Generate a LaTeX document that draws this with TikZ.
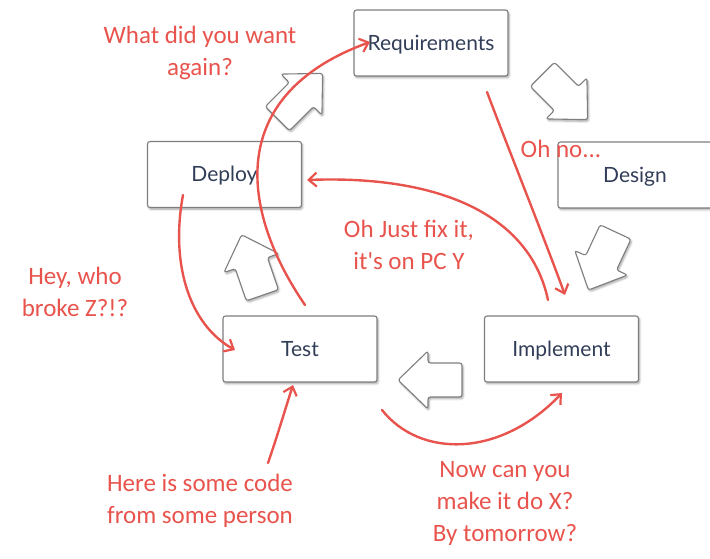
\documentclass[tikz,border=0pt]{standalone}
\usepackage{fontspec}
\setmainfont{Lato}
\newfontfamily\hand{Carlito}
\usetikzlibrary{arrows.meta,shadows.blur}
\definecolor{boxtext}{HTML}{323E58}
\definecolor{boxline}{HTML}{7E7E7E}
\definecolor{scrib}{HTML}{E8544D}
\tikzset{
  stage/.style={draw=boxline, line width=1.1pt, rounded corners=2.5pt, fill=white,
    minimum width=154pt, minimum height=66pt, text=boxtext,
    text height=15pt, text depth=0pt,
    font=\fontsize{21}{24}\selectfont,
    blur shadow={shadow xshift=1.2pt, shadow yshift=-1.8pt, shadow blur steps=6, shadow opacity=35}},
  blockarrow/.style={draw=boxline, line width=1.1pt, rounded corners=2.5pt, fill=white,
    blur shadow={shadow xshift=1.2pt, shadow yshift=-1.8pt, shadow blur steps=6, shadow opacity=35}},
  scribble/.style={draw=scrib, line width=2.4pt, line cap=round,
    -{Straight Barb[length=8pt,width=14pt,line width=2.2pt]}},
  note/.style={text=scrib, font=\hand\fontsize{25}{32}\selectfont, align=center},
  pics/barrow/.style={code={
    \draw[blockarrow] (-32,-17) -- (2,-17) -- (2,-29) -- (32,0) -- (2,29) -- (2,17) -- (-32,17) -- cycle;}}
}
\begin{document}
\begin{tikzpicture}[x=1pt,y=-1pt]
\useasboundingbox (0,0) rectangle (710,559);
\clip (0,0) rectangle (710,559);

% block arrows
\path (300,96) pic[rotate=45] {barrow};
\path (565,97) pic[rotate=-45] {barrow};
\path (602,261) pic[rotate=245] {barrow};
\path (430,380) pic[rotate=180] {barrow};
\path (252,265) pic[rotate=109] {barrow};

% stages
\node[stage] (req) at (431,43) {Requirements};
\node[stage] (design) at (635,175) {Design};
\node[stage] (deploy) at (224.5,174.5) {Deploy};
\node[stage] (test) at (300,349) {Test};
\node[stage] (impl) at (561.5,349) {Implement};

% notes
\node[note] (n1) at (200,53) {What did you want\\again?};
\node[note] (n2) at (561,149) {Oh no...};
\node[note] (n3) at (409,245) {Oh Just fix it,\\it's on PC Y};
\node[note] (n4) at (75,292) {Hey, who\\broke Z?!?};
\node[note] (n5) at (200,501) {Here is some code\\from some person};
\node[note] (n6) at (505,503) {Now can you\\make it do X?\\By tomorrow?};

% scribble end points
\coordinate (a1) at (305,305);
\coordinate (b1) at (370,42);
\coordinate (a2) at (487,92);
\coordinate (b2) at (565,295);
\coordinate (a3) at (548,300);
\coordinate (b3) at (307,180);
\coordinate (a4) at (183,195);
\coordinate (b4) at (235,350);
\coordinate (a5) at (382,410);
\coordinate (b5) at (562,393);
\coordinate (a6) at (268,463);
\coordinate (b6) at (293,385);

\draw[scribble] (a1) .. controls (240,210) and (225,95) .. (b1);
\draw[scribble] (a2) .. controls (505,140) and (545,240) .. (b2);
\draw[scribble] (a3) .. controls (530,215) and (440,175) .. (b3);
\draw[scribble] (a4) .. controls (170,265) and (190,325) .. (b4);
\draw[scribble] (a5) .. controls (420,458) and (500,458) .. (b5);
\draw[scribble] (a6) .. controls (276,440) and (285,410) .. (b6);
\end{tikzpicture}
\end{document}
